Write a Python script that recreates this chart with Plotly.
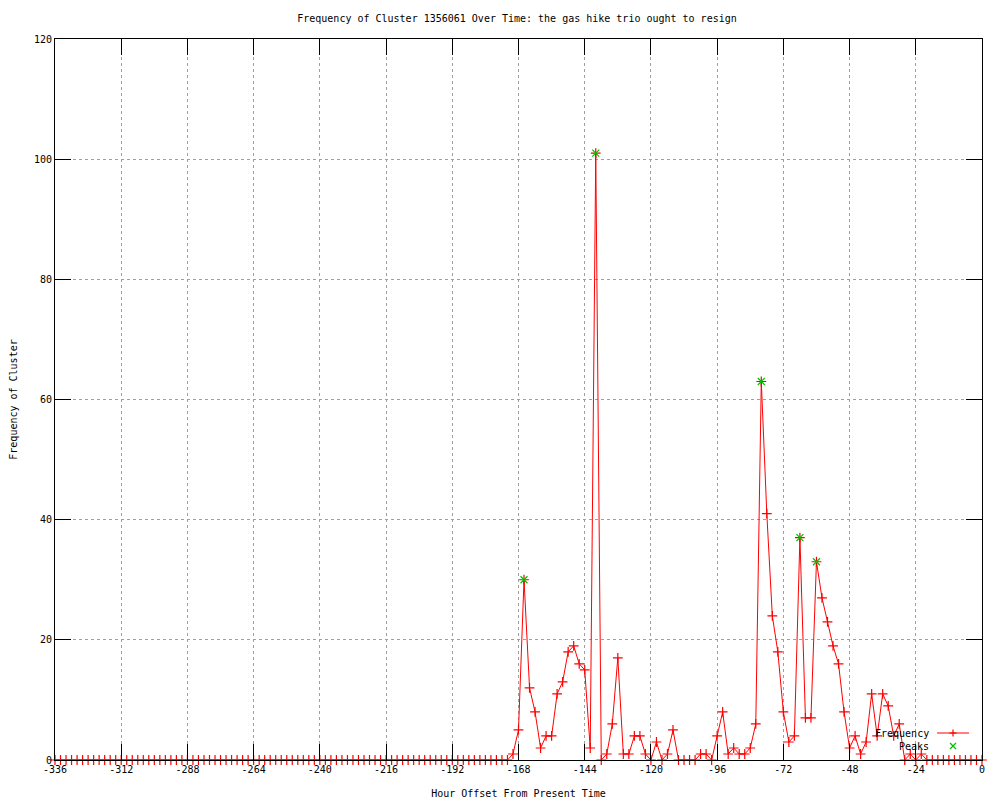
import plotly.graph_objects as go

hours = list(range(-336, 1, 2))
freq = [
    0, 0, 0, 0, 0, 0, 0, 0, 0, 0, 0, 0, 0, 0, 0, 0, 0, 0, 0, 0,
    0, 0, 0, 0, 0, 0, 0, 0, 0, 0, 0, 0, 0, 0, 0, 0, 0, 0, 0, 0,
    0, 0, 0, 0, 0, 0, 0, 0, 0, 0, 0, 0, 0, 0, 0, 0, 0, 0, 0, 0,
    0, 0, 0, 0, 0, 0, 0, 0, 0, 0, 0, 0, 0, 0, 0, 0, 0, 0, 0, 0,
    0, 0, 0,
    # -170 .. -20
    1, 5, 30, 12, 8, 2, 4, 4, 11, 13, 18, 19, 16, 15, 2, 101, 0, 1, 6, 17,
    1, 1, 4, 4, 1, 0, 3, 0, 1, 5, 0, 0, 0, 0, 1, 1, 0, 4, 8, 1,
    2, 1, 1, 2, 6, 63, 41, 24, 18, 8, 3, 4, 37, 7, 7, 33, 27, 23, 19, 16,
    8, 2, 4, 1, 3, 11, 4, 11, 9, 4, 6, 0, 1, 0, 1, 0,
    # -18 .. 0
    0, 0, 0, 0, 0, 0, 0, 0, 0, 0,
]
assert len(freq) == len(hours)

peak_hours = [-166, -140, -80, -66, -60]
peak_values = [30, 101, 63, 37, 33]

x_ticks = list(range(-336, 1, 24))
y_ticks = [0, 20, 40, 60, 80, 100, 120]

title_text = "Frequency of Cluster 1356061 Over Time: the gas hike trio ought to resign"
x_title = "Hour Offset From Present Time"
y_title = "Frequency of Cluster"

FONT = "DejaVu Sans Mono"

fig = go.Figure()
fig.add_trace(go.Scatter(
    x=hours, y=freq, mode="lines+markers", name="Frequency",
    line=dict(color="#ff0000", width=1),
    marker=dict(symbol="cross-thin", size=7, line=dict(color="#ff0000", width=1.2)),
    showlegend=False, cliponaxis=False,
))
fig.add_trace(go.Scatter(
    x=peak_hours, y=peak_values, mode="markers", name="Peaks",
    marker=dict(symbol="x-thin", size=7, line=dict(color="#00c000", width=1.2)),
    showlegend=False, cliponaxis=False,
))

# page offset (body margin of the html page)
OFF = 8
W, H = 1000, 800
# target screen coordinates of plot area
L, R, T, B = 55, 982, 39, 760
mL, mR, mT, mB = L - OFF, W + OFF - R, T - OFF, H + OFF - B

def px(xp):
    return (xp - L) / (R - L)
def py(yp):
    return (B - yp) / (B - T)

shapes = []
shapes.append(dict(type="line", xref="paper", yref="paper", x0=px(937), x1=px(969), y0=py(733), y1=py(733),
                   line=dict(color="#ff0000", width=1)))
shapes.append(dict(type="line", xref="paper", yref="paper", x0=px(953), x1=px(953), y0=py(729.5), y1=py(736.5),
                   line=dict(color="#ff0000", width=1.2)))
shapes.append(dict(type="line", xref="paper", yref="paper", x0=px(949.5), x1=px(956.5), y0=py(733), y1=py(733),
                   line=dict(color="#ff0000", width=1.2)))
shapes.append(dict(type="line", xref="paper", yref="paper", x0=px(950), x1=px(956), y0=py(743), y1=py(749),
                   line=dict(color="#00c000", width=1.2)))
shapes.append(dict(type="line", xref="paper", yref="paper", x0=px(950), x1=px(956), y0=py(749), y1=py(743),
                   line=dict(color="#00c000", width=1.2)))

annotations = [
    dict(text="Frequency", xref="paper", yref="paper", x=px(931), y=py(733), xanchor="right", yanchor="middle",
         showarrow=False, font=dict(family=FONT, size=10, color="black")),
    dict(text="Peaks", xref="paper", yref="paper", x=px(931), y=py(746), xanchor="right", yanchor="middle",
         showarrow=False, font=dict(family=FONT, size=10, color="black")),
]

axis_common = dict(
    showline=True, linecolor="black", linewidth=1, mirror="allticks",
    ticks="inside", ticklen=16, tickcolor="black", tickwidth=1,
    showgrid=True, gridcolor="#a0a0a0", griddash="dot", gridwidth=1,
    zeroline=False, automargin=False, tickfont=dict(family=FONT, size=10, color="black"),
)

fig.update_layout(
    width=W, height=H,
    margin=dict(l=mL, r=mR, t=mT, b=mB),
    paper_bgcolor="white", plot_bgcolor="white",
    title=dict(text=title_text, x=(517 - OFF) / W, xanchor="center", y=1 - (18 - OFF) / H, yanchor="middle",
               font=dict(family=FONT, size=10, color="black")),
    xaxis=dict(range=[-336, 0], tickvals=x_ticks, ticktext=[str(v) for v in x_ticks],
               title=dict(text=x_title, font=dict(family=FONT, size=10, color="black"), standoff=15),
               **axis_common),
    yaxis=dict(range=[0, 120], tickvals=y_ticks, ticktext=[str(v) for v in y_ticks],
               title=dict(text=y_title, font=dict(family=FONT, size=10, color="black"), standoff=14),
               **axis_common),
    shapes=shapes, annotations=annotations, showlegend=False,
)

fig.write_html("out.html")
